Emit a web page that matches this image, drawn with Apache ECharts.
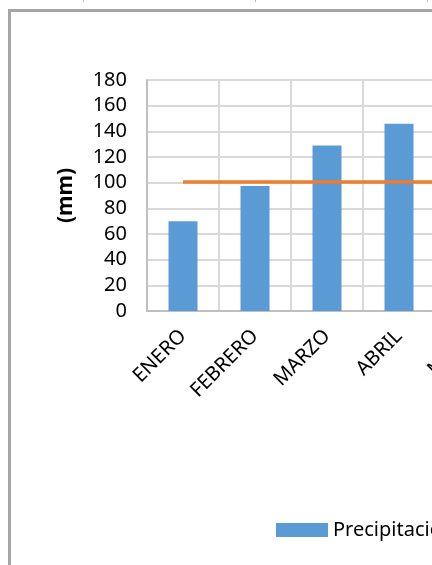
<!DOCTYPE html>
<html>
<head>
<meta charset="utf-8">
<style>
html,body{margin:0;padding:0;background:#fff;overflow:hidden;width:432px;height:565px;}
#c{width:1100px;height:565px;}
</style>
<script src="https://cdn.jsdelivr.net/npm/echarts@6/dist/echarts.min.js"></script>
</head>
<body>
<div id="c"></div>
<script>
var months = ['ENERO','FEBRERO','MARZO','ABRIL','MAYO','JUNIO','JULIO','AGOSTO','SEPTIEMBRE','OCTUBRE','NOVIEMBRE','DICIEMBRE'];
var precipitacion = [70, 97.5, 129, 146, null, null, null, null, null, null, null, null];
var promedio = [100.5,100.5,100.5,100.5,100.5,100.5,100.5,100.5,100.5,100.5,100.5,100.5];
var yTicks = {min: 0, max: 180, interval: 20};

var FONT = '"Noto Sans", "Open Sans", sans-serif';
var chart = echarts.init(document.getElementById('c'), null, {renderer: 'canvas'});
chart.setOption({
  backgroundColor: '#ffffff',
  animation: false,
  textStyle: {fontFamily: FONT},
  graphic: [
    {type: 'rect', shape: {x: 9.5, y: 10.5, width: 1080, height: 1000}, style: {fill: 'none', stroke: '#A6A6A6', lineWidth: 3}, silent: true},
    {type: 'line', shape: {x1: 83.5, y1: 0, x2: 83.5, y2: 2}, style: {stroke: '#BFBFBF', lineWidth: 1}},
    {type: 'line', shape: {x1: 255.5, y1: 0, x2: 255.5, y2: 2}, style: {stroke: '#BFBFBF', lineWidth: 1}},
    {type: 'line', shape: {x1: 427.5, y1: 0, x2: 427.5, y2: 2}, style: {stroke: '#BFBFBF', lineWidth: 1}}
  ],
  legend: {
    left: 271, top: 515,
    itemWidth: 52, itemHeight: 14, itemGap: 30,
    icon: 'rect',
    textStyle: {fontFamily: FONT, fontSize: 20, color: '#000'},
    data: ['Precipitación', 'Promedio']
  },
  grid: {left: 147, top: 80, width: 864, height: 231, containLabel: false},
  xAxis: {
    type: 'category', data: months,
    axisLine: {show: true, lineStyle: {color: '#BFBFBF', width: 2}},
    axisTick: {show: false},
    splitLine: {show: true, lineStyle: {color: '#D9D9D9', width: 2}},
    axisLabel: {rotate: 45, fontSize: 20, color: '#000', margin: 22, fontFamily: FONT, interval: 0}
  },
  yAxis: {
    type: 'value', min: yTicks.min, max: yTicks.max, interval: yTicks.interval,
    name: '(mm)', nameLocation: 'middle', nameRotate: 90, nameGap: 70,
    nameTextStyle: {fontSize: 21, fontWeight: 'bold', color: '#000', fontFamily: FONT},
    axisLine: {show: true, lineStyle: {color: '#BFBFBF', width: 2}},
    axisTick: {show: false},
    splitLine: {show: true, lineStyle: {color: '#D9D9D9', width: 2}},
    axisLabel: {fontSize: 20, color: '#000', margin: 20, fontFamily: FONT}
  },
  series: [
    {name: 'Precipitación', type: 'bar', data: precipitacion, barWidth: 29,
     itemStyle: {color: '#5B9BD5'}},
    {name: 'Promedio', type: 'line', data: promedio, symbol: 'none',
     lineStyle: {color: '#ED7D31', width: 3.5}, itemStyle: {color: '#ED7D31'}}
  ]
});
</script>
</body>
</html>
